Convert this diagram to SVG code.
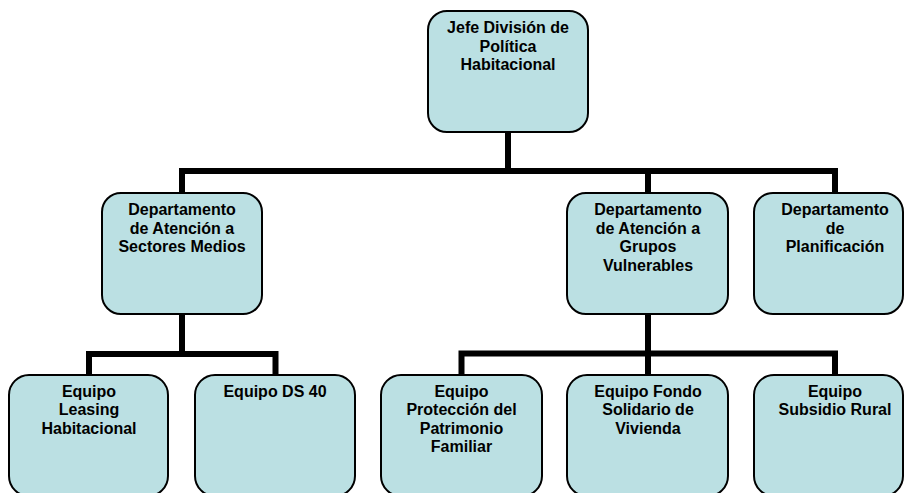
<svg xmlns="http://www.w3.org/2000/svg" width="905" height="493" viewBox="0 0 905 493">
<style>
.box{fill:#BBE0E3;stroke:#000;stroke-width:2}
.lbl{font-family:"Liberation Sans",Arial,sans-serif;font-size:16px;font-weight:bold;fill:#000;text-anchor:middle}
.conn{fill:none;stroke:#000;stroke-width:6;stroke-linejoin:miter;stroke-linecap:butt}
</style>
<rect width="905" height="493" fill="#fff"/>
<g id="connectors">
<path class="conn" d="M508,132 V171 M182,171 H838 M182,168 V193 M648,171 V193 M835,168 V193"/>
<path class="conn" d="M182,314 V354 M89,354 H278.5 M89,351 V375 M275.5,351 V375"/>
<path class="conn" d="M648,314 V375 M461.5,353.5 H838 M461.5,350.5 V375 M835,350.5 V375"/>
</g>
<g id="n-jefe">
<rect class="box" x="428" y="11" width="160" height="121" rx="19"/>
<text class="lbl" x="508" y="33">Jefe División de</text>
<text class="lbl" x="508" y="51.5">Política</text>
<text class="lbl" x="508" y="70">Habitacional</text>
</g>
<g id="n-sm">
<rect class="box" x="102" y="193" width="160" height="121" rx="19"/>
<text class="lbl" x="182" y="215">Departamento</text>
<text class="lbl" x="182" y="233.5">de Atención a</text>
<text class="lbl" x="182" y="252">Sectores Medios</text>
</g>
<g id="n-gv">
<rect class="box" x="567" y="193" width="161" height="121" rx="19"/>
<text class="lbl" x="648" y="215">Departamento</text>
<text class="lbl" x="648" y="233.5">de Atención a</text>
<text class="lbl" x="648" y="252">Grupos</text>
<text class="lbl" x="648" y="270.5">Vulnerables</text>
</g>
<g id="n-plan">
<rect class="box" x="754" y="193" width="149" height="121" rx="19"/>
<text class="lbl" x="835" y="215">Departamento</text>
<text class="lbl" x="835" y="233.5">de</text>
<text class="lbl" x="835" y="252">Planificación</text>
</g>
<g id="n-leasing">
<rect class="box" x="9" y="375" width="159" height="121" rx="20"/>
<text class="lbl" x="89" y="396.5">Equipo</text>
<text class="lbl" x="89" y="415">Leasing</text>
<text class="lbl" x="89" y="433.5">Habitacional</text>
</g>
<g id="n-ds40">
<rect class="box" x="195" y="375" width="160" height="121" rx="20"/>
<text class="lbl" x="275" y="396.5">Equipo DS 40</text>
</g>
<g id="n-proteccion">
<rect class="box" x="381" y="375" width="161" height="121" rx="20"/>
<text class="lbl" x="461.5" y="396.5">Equipo</text>
<text class="lbl" x="461.5" y="415">Protección del</text>
<text class="lbl" x="461.5" y="433.5">Patrimonio</text>
<text class="lbl" x="461.5" y="452">Familiar</text>
</g>
<g id="n-fondo">
<rect class="box" x="567" y="375" width="161" height="121" rx="20"/>
<text class="lbl" x="648" y="396.5">Equipo Fondo</text>
<text class="lbl" x="648" y="415">Solidario de</text>
<text class="lbl" x="648" y="433.5">Vivienda</text>
</g>
<g id="n-rural">
<rect class="box" x="754" y="375" width="149" height="121" rx="20"/>
<text class="lbl" x="835" y="396.5">Equipo</text>
<text class="lbl" x="835" y="415">Subsidio Rural</text>
</g>
</svg>
